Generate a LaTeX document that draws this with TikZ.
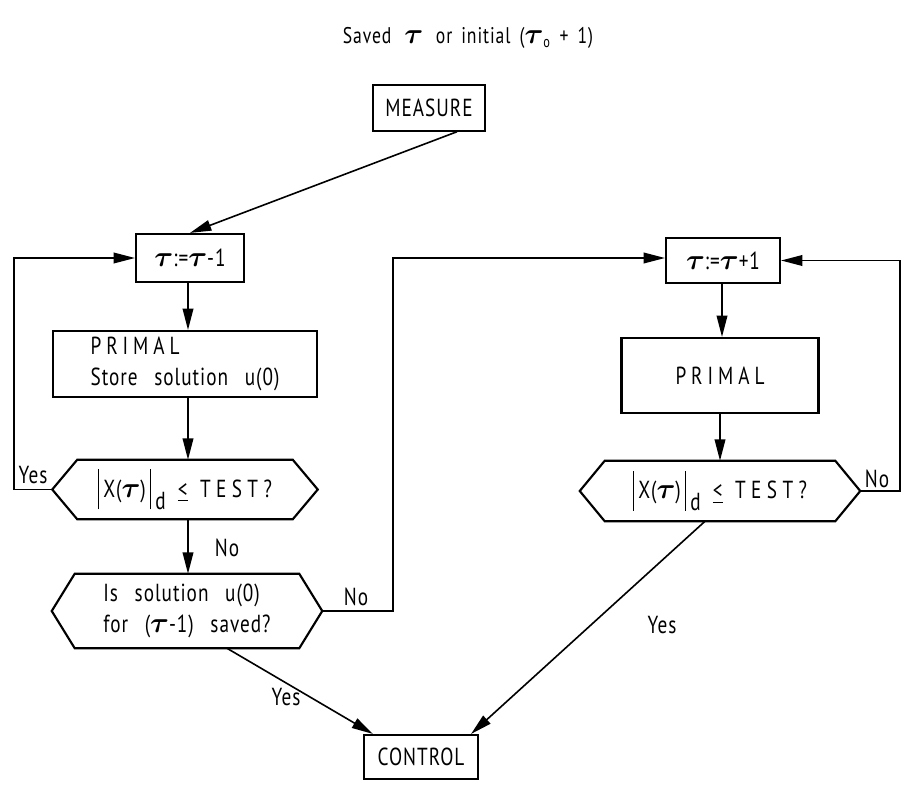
\documentclass[tikz,border=0pt]{standalone}
\usepackage{fontspec}
\usepackage{amsmath}
\setmainfont{PT Sans}[FakeStretch=0.78, LetterSpace=4, WordSpace=1.6]
\usetikzlibrary{arrows.meta,calc}

% bold tau used throughout the flow chart
\newcommand{\tb}{\ensuremath{\scalebox{1.25}{$\boldsymbol{\tau}$}}}
% tall bar for the norm signs
\newcommand{\nbar}{\rule[-9pt]{0.9pt}{30pt}}
% widely spaced capitals
\newcommand{\wide}[1]{{\addfontfeature{LetterSpace=20}#1}}
\newcommand{\test}{{\addfontfeature{LetterSpace=22}TEST?}}
% norm test printed in both decision hexagons
\newcommand{\normtest}{\nbar\,X(\tb)\,\nbar\,\raisebox{-9pt}{d}\enspace\underline{<}\enspace\test}
% hexagonal decision outline drawn round a (borderless) node
\newcommand{\hexpath}[2]{%
  \draw[outline] (#1.west) -- ($(#1.north west)+(#2,0)$) -- ($(#1.north east)+(-#2,0)$)
    -- (#1.east) -- ($(#1.south east)+(-#2,0)$) -- ($(#1.south west)+(#2,0)$) -- cycle;}

\begin{document}
\begin{tikzpicture}[x=0.75pt,y=-0.75pt,
  font=\fontsize{18.5}{23}\selectfont,
  box/.style={draw, line width=1.6pt, rectangle, inner sep=0pt},
  decision/.style={rectangle, inner sep=0pt},
  outline/.style={line width=1.6pt, line join=miter},
  flow/.style={line width=1.2pt, -{Triangle[length=16pt,width=8pt]}},
  lbl/.style={inner sep=1pt}]
\useasboundingbox (0,0) rectangle (905,809);

% heading
\node[lbl, font=\fontsize{17}{20}\selectfont] (title) at (468,38)
  {Saved\, \tb\, or initial (\tb\textsubscript{o} + 1)};

% left column
\node[box, minimum width=84pt, minimum height=34pt] (measure) at (429,108) {MEASURE};
\node[box, minimum width=81pt, minimum height=36pt] (tauA) at (190,258) {\tb:=\tb-1};
\node[box, minimum width=198pt, minimum height=49.5pt, align=left] (primalA) at (185,364)
  {\wide{PRIMAL}\\Store\; solution\; u(0)};
\node[decision, minimum width=198.75pt, minimum height=44.25pt] (hexA) at (185,489.5) {\normtest};
\node[decision, minimum width=202.5pt, minimum height=55.5pt, align=left] (hexB) at (187,611)
  {Is\; solution\; u(0)\\for\; (\tb-1)\; saved?};

% right column
\node[box, minimum width=85.5pt, minimum height=33.75pt] (tauB) at (723,260.5) {\tb:=\tb+1};
\node[box, minimum width=147.75pt, minimum height=56.25pt] (primalB) at (720,375.5) {\wide{PRIMAL}};
\node[decision, minimum width=210pt, minimum height=45pt] (hexC) at (720,491) {\normtest};

% end
\node[box, minimum width=85.5pt, minimum height=33pt] (control) at (421,757) {CONTROL};

\hexpath{hexA}{25}
\hexpath{hexB}{23}
\hexpath{hexC}{25}

% connectors
\draw[flow] ($(measure.south)+(28,0)$) -- (tauA.north);
\draw[flow] (tauA.south -| 188,0) -- (primalA.north -| 188,0);
\draw[flow] (primalA.south -| 188,0) -- (hexA.north -| 188,0);
\draw[flow] (hexA.south -| 188,0) -- (hexB.north -| 188,0);
\draw[flow] (hexA.west) -- ++(-38,0) |- (tauA.west);
\draw[flow] (hexB.east) -- ++(71,0) |- (tauA.west -| tauB.west);
\draw[flow] (tauB.south -| 722,0) -- (primalB.north -| 722,0);
\draw[flow] (primalB.south -| 720,0) -- (hexC.north -| 720,0);
\draw[flow] (hexC.east) -- ++(40,0) |- (tauB.east);
\draw[flow] ($(hexC.south)+(-15,0)$) -- ($(control.north east)+(-8,0)$);
\draw[flow] ($(hexB.south)+(40,0)$) -- ($(control.north west)+(10,0)$);

% branch labels
\node[lbl] (yesA) at (33,475) {Yes};
\node[lbl] (noA) at (227,548) {No};
\node[lbl] (noB) at (356,597) {No};
\node[lbl] (noC) at (877,479) {No};
\node[lbl] (yesC) at (662,625) {Yes};
\node[lbl] (yesB) at (286,697) {Yes};
\end{tikzpicture}
\end{document}
